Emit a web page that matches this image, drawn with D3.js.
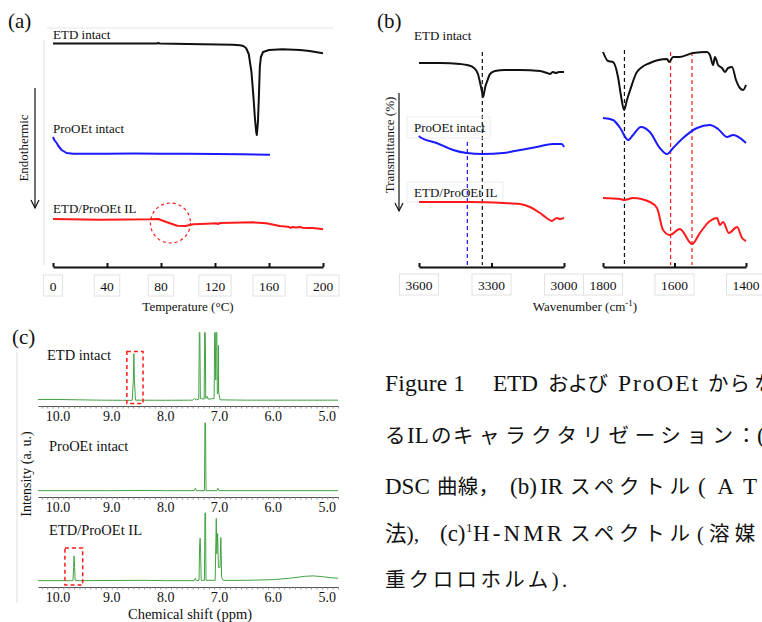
<!DOCTYPE html>
<html><head><meta charset="utf-8">
<script src="https://cdn.jsdelivr.net/npm/d3@7"></script>
<style>
body{margin:0;background:#fff;overflow:hidden}
svg{display:block}
text{font-family:'Liberation Serif','Noto Sans CJK JP',serif;fill:#111}
</style>
</head><body>
<svg id="fig" width="762" height="622"></svg>
<script>
// ---------------- DATA ----------------
// (a) DSC : [temperature (°C), heat flow (a.u., offset)]
const dscTicks = [0, 40, 80, 120, 160, 200];
const dscETD = [[0,223.5],[40,223.5],[77,223.5],[78,224],[79,223.5],[100,223],[133,222.3],[138.5,221.7],[141,221],[143,219],[145,213],[147,195],[148.5,170],[149.5,150],[150.5,135],[151,132],[151.8,145],[152.5,170],[153.2,200],[154,210],[155.6,215],[160,217],[170,217.7],[183,217],[190,216],[200,213.7]];
const dscPro = [[0,130],[1,127],[2.7,124],[4,121],[6.4,117],[10,114],[15,113.3],[40,113.3],[60,113.5],[80,113.3],[100,113.3],[120,113],[140,112.7],[160.7,112.3]];
const dscIL = [[0,48],[35,47.3],[72,47.7],[78,48],[84,45],[92,41.3],[98,41],[104,42.7],[114,43.3],[121,43.7],[122,43],[124,44],[148,44.7],[158,43.7],[168,41],[172,40.5],[175,40],[176,39],[177,40],[180,39.5],[183,40],[185,39.3],[188,39],[192,39],[196,38.5],[200,37.7]];
const dscNames = ["ETD intact", "ProOEt intact", "ETD/ProOEt IL"];
const dscCircle = [87, 44]; // highlighted transition (°C, a.u.)

// (b) IR : [wavenumber (cm-1), transmittance (a.u., offset)]
const irTicksLeft = [3600, 3300, 3000];
const irTicksRight = [1800, 1600, 1400];
const irETDLeft = [[3600,204],[3513,204],[3430,203],[3401,202],[3372,199],[3356,193],[3348,185],[3339,175],[3335,170],[3330,175],[3325,181],[3319,185],[3306,193],[3286,196],[3244,197],[3182,197],[3099,196],[3070,194],[3058,193],[3046,195],[3033,194],[3021,195],[3000,195]];
const irProLeft = [[3600,131],[3596,130],[3527,124],[3459,117],[3403,114],[3335,113],[3252,114],[3182,117],[3113,120],[3046,123],[3010,123],[3000,120]];
const irILLeft = [[3600,65],[3596,65],[3389,65],[3251,64],[3182,63],[3141,60],[3099,54],[3072,49],[3051,46],[3030,49],[3017,48],[3000,49]];
const irETDRight = [[1800,215],[1786,206],[1772,205],[1758,190],[1750,172],[1741,157],[1733,167],[1724,177],[1705,195],[1669,204],[1621,208],[1615,205],[1604,210],[1585,210],[1548,214],[1509,215],[1501,212],[1492,202],[1487,210],[1478,202],[1467,199],[1459,195],[1450,199],[1439,200],[1428,187],[1417,179],[1408,177],[1400,182]];
const irProRight = [[1800,149],[1772,147],[1752,139],[1730,127],[1716,132],[1694,140],[1669,135],[1641,119],[1621,113],[1604,119],[1576,129],[1537,139],[1501,142],[1478,138],[1453,130],[1436,132],[1400,124]];
const irILRight = [[1800,69],[1752,68],[1741,67],[1716,69],[1669,65],[1649,59],[1632,37],[1613,32],[1585,38],[1551,23],[1529,34],[1501,46],[1481,49],[1473,42],[1464,45],[1448,34],[1425,40],[1411,29],[1400,26]];
const irNames = ["ETD intact", "ProOEt intact", "ETD/ProOEt IL"];
// reference (dashed) lines: wavenumber, segment, colour key, top value
const irRefWn = [3338, 3400, 1740, 1611, 1551];
const irRefSeg = ["L", "L", "R", "R", "R"];
const irRefKey = ["k", "b", "k", "r", "r"];
const irRefTop = [215, 125, 217, 215, 215];

// (c) 1H-NMR : [chemical shift (ppm), intensity (a.u.)]
const nmrTickLabels = [10.0, 9.0, 8.0, 7.0, 6.0, 5.0];
const nmrETD = [[10.37,1.5],[10.0,1.5],[9.6,1],[9.2,0.5],[8.8,0.3],[8.62,0.3],[8.60,30],[8.59,69],[8.58,30],[8.56,0.5],[8.0,0.3],[7.5,0.5],[7.46,3],[7.44,1],[7.385,2],[7.375,100],[7.365,100],[7.355,3],[7.285,2],[7.275,100],[7.265,100],[7.255,3],[7.23,6],[7.21,2],[7.10,3],[7.09,100],[7.08,100],[7.07,30],[7.06,100],[7.05,100],[7.04,10],[7.025,12],[7.02,81],[7.015,12],[6.99,1],[6.5,0.5],[6.0,0.5],[5.0,0.5],[4.80,0.5]];
const nmrPro = [[10.37,0.5],[9.0,0.5],[8.4,0.8],[8.0,0.5],[7.47,0.5],[7.45,4],[7.43,0.5],[7.28,0.5],[7.27,100],[7.26,100],[7.25,0.5],[7.05,0.5],[7.03,4],[7.01,0.5],[6.0,0.5],[4.80,0.5]];
const nmrIL = [[10.37,0.5],[9.75,0.5],[9.72,1],[9.71,20],[9.70,37],[9.69,20],[9.68,1],[9.6,0.5],[8.4,1],[8.0,0.5],[7.47,0.5],[7.45,4],[7.43,0.5],[7.38,1],[7.37,50],[7.36,63],[7.35,40],[7.34,1],[7.28,1],[7.27,100],[7.26,100],[7.25,1],[7.08,1],[7.06,92],[7.05,40],[7.035,70],[7.02,20],[6.99,20],[6.975,64],[6.96,5],[6.93,1],[6.5,1],[6.0,2],[5.7,4],[5.4,7],[5.26,7.5],[5.1,6.5],[4.95,5],[4.80,4]];
const nmrNames = ["ETD intact", "ProOEt intact", "ETD/ProOEt IL"];
const nmrBoxes = [[0, 8.72, 8.42, 72, -4.5], [2, 9.87, 9.54, 48.5, -6]];

// caption (Japanese) chunks: text, x, target width (null = natural), font size
const capLines = [
  [["Figure 1",385,80,23.5],["ETD",493,45,23.5],["および",548,60,20.5],["ProOEt",618,80,23.5],["から",708,42,20.5],["な",754,null,20.5]],
  [["る",385,null,20.5],["IL",407,null,23],["の",431,null,20.5],["キャラクタリゼーション",453,280,20.5],["：",736,null,20.5],["(a)",757,null,23.5]],
  [["DSC",385,null,23],["曲線，",437,62,20.5],["(b)",510,null,23],["IR",540,null,23],["スペクトル",570,120,20.5],["(ATR",698,86,23]],
  [["法),",385,null,21.5],["(c)",440,null,23],["H-NMR",473,89,23],["スペクトル",570,120,20.5],["(溶媒：",697,84,20.5]],
  [["重クロロホルム).",385,182,20.5]]
];
const capBaselines = [391, 443, 494, 541, 587];

// ---------------- DRAW ----------------
const svg = d3.select("#fig");
const C = {k:"#111111", b:"#1a1aff", r:"#ff1a1a", g:"#43a343"};

function label(x, y, t, size, anchor){
  return svg.append("text").attr("x", x).attr("y", y).attr("font-size", size)
    .attr("text-anchor", anchor || "start").text(t);
}
function arrowDown(x, y1, y2){
  svg.append("line").attr("x1",x).attr("x2",x).attr("y1",y1).attr("y2",y2).attr("stroke","#111").attr("stroke-width",1.2);
  svg.append("path").attr("d",`M${x-4},${y2-8}L${x},${y2}L${x+4},${y2-8}`).attr("fill","none").attr("stroke","#111").attr("stroke-width",1.2);
}
function tickBox(x, y, t, size){
  const w = t.length * size * 0.5 + 12;
  svg.append("rect").attr("x", x - w/2).attr("y", y - 11).attr("width", w).attr("height", 21)
    .attr("fill","#fff").attr("stroke","#e2e2e2").attr("stroke-width",1);
  label(x, y + 5, t, size, "middle");
}

// ===== (a) DSC =====
label(8, 28, "(a)", 21);
svg.append("line").attr("x1",47).attr("x2",333).attr("y1",28).attr("y2",28).attr("stroke","#e6e6e6");
svg.append("line").attr("x1",44).attr("x2",44).attr("y1",40).attr("y2",265).attr("stroke","#dddddd");
const xA = d3.scaleLinear().domain([0,200]).range([53,323]);
const yA = d3.scaleLinear().domain([0,240]).range([267,27]);
const lineA = d3.line().x(d=>xA(d[0])).y(d=>yA(d[1]));
[[dscETD,C.k],[dscPro,C.b],[dscIL,C.r]].forEach(([d,c])=>{
  svg.append("path").datum(d).attr("d",lineA).attr("fill","none").attr("stroke",c).attr("stroke-width",2).attr("stroke-linejoin","round");
});
svg.append("circle").attr("cx",xA(dscCircle[0])).attr("cy",yA(dscCircle[1])).attr("r",20)
  .attr("fill","none").attr("stroke",C.r).attr("stroke-width",1.2).attr("stroke-dasharray","3,3");
const axA = svg.append("g").attr("transform","translate(0,267)")
  .call(d3.axisBottom(xA).tickValues(dscTicks).tickSizeInner(-4).tickSizeOuter(0).tickFormat(""));
axA.selectAll("path,line").attr("stroke","#111").attr("stroke-width",2);
dscTicks.forEach(t=>tickBox(xA(t), 286, String(t), 13.5));
label(188, 311, "Temperature (°C)", 13, "middle");
label(53, 39, dscNames[0], 13);
label(53, 133, dscNames[1], 13);
label(53, 213, dscNames[2], 13);
arrowDown(35, 88, 208);
svg.append("text").attr("transform","translate(28,148) rotate(-90)").attr("font-size",13)
  .attr("text-anchor","middle").text("Endothermic");

// ===== (b) IR =====
label(377, 28, "(b)", 21);
const xL = d3.scaleLinear().domain([3600,3000]).range([419,564]);
const xR = d3.scaleLinear().domain([1800,1400]).range([603,746]);
const yB = d3.scaleLinear().domain([0,240]).range([267,27]);
const lineL = d3.line().x(d=>xL(d[0])).y(d=>yB(d[1])).curve(d3.curveMonotoneX);
const lineR = d3.line().x(d=>xR(d[0])).y(d=>yB(d[1])).curve(d3.curveMonotoneX);
irRefWn.forEach((wn,i)=>{
  const sx = irRefSeg[i]==="L" ? xL : xR;
  svg.append("line").attr("x1",sx(wn)).attr("x2",sx(wn)).attr("y1",yB(irRefTop[i])).attr("y2",yB(2))
    .attr("stroke",C[irRefKey[i]]).attr("stroke-width",1.2).attr("stroke-dasharray","4,3");
});
svg.append("rect").attr("x",407).attr("y",117).attr("width",83).attr("height",21).attr("fill","none").attr("stroke","#ececec");
svg.append("rect").attr("x",407).attr("y",182).attr("width",96).attr("height",20).attr("fill","none").attr("stroke","#ececec");
[[irETDLeft,lineL,C.k],[irProLeft,lineL,C.b],[irILLeft,lineL,C.r],
 [irETDRight,lineR,C.k],[irProRight,lineR,C.b],[irILRight,lineR,C.r]].forEach(([d,l,c])=>{
  svg.append("path").datum(d).attr("d",l).attr("fill","none").attr("stroke",c).attr("stroke-width",2).attr("stroke-linejoin","round");
});
const axL = svg.append("g").attr("transform","translate(0,267)")
  .call(d3.axisBottom(xL).tickValues(irTicksLeft).tickSizeInner(-4).tickSizeOuter(0).tickFormat(""));
const axR = svg.append("g").attr("transform","translate(0,267)")
  .call(d3.axisBottom(xR).tickValues(irTicksRight).tickSizeInner(-4).tickSizeOuter(0).tickFormat(""));
[axL,axR].forEach(a=>a.selectAll("path,line").attr("stroke","#111").attr("stroke-width",2));
irTicksLeft.forEach(t=>tickBox(xL(t), 285, String(t), 13.5));
irTicksRight.forEach(t=>tickBox(xR(t), 285, String(t), 13.5));
const wl = svg.append("text").attr("x",585).attr("y",311).attr("font-size",13).attr("text-anchor","middle");
wl.append("tspan").text("Wavenumber (cm");
wl.append("tspan").attr("font-size",9).attr("dy",-5).text("-1");
wl.append("tspan").attr("dy",5).text(")");
label(414, 40, irNames[0], 13);
label(414, 132, irNames[1], 13);
label(414, 197, irNames[2], 13);
arrowDown(399, 93, 211);
svg.append("text").attr("transform","translate(394,145) rotate(-90)").attr("font-size",13)
  .attr("text-anchor","middle").text("Transmittance (%)");

// ===== (c) NMR =====
label(12, 344, "(c)", 21);
svg.append("line").attr("x1",17).attr("x2",17).attr("y1",352).attr("y2",603).attr("stroke","#dddddd");
const xC = d3.scaleLinear().domain([10.37,4.80]).range([38,338]);
const panels = [
  {data:nmrETD, base:400.5, axis:406, lab:421, name:360},
  {data:nmrPro, base:491, axis:497, lab:512, name:451},
  {data:nmrIL,  base:581, axis:587, lab:602, name:535}
];
panels.forEach((p,i)=>{
  p.y = d3.scaleLinear().domain([0,100]).range([p.base, p.base-68]);
  const ax = svg.append("g").attr("transform",`translate(0,${p.axis})`)
    .call(d3.axisBottom(xC).ticks(56).tickSizeInner(2.5).tickSizeOuter(0).tickFormat(""));
  ax.selectAll("path").attr("stroke","#555").attr("stroke-width",1.2);
  ax.selectAll("line").attr("stroke","#777").attr("stroke-width",0.8);
  nmrTickLabels.forEach(t=>label(xC(t), p.lab, t.toFixed(1), 14, "middle"));
  label(i===0?47:49, p.name, nmrNames[i], 14.5);
});
panels.forEach(p=>{
  const ln = d3.line().x(d=>xC(d[0])).y(d=>p.y(d[1]));
  svg.append("path").datum(p.data).attr("d",ln).attr("fill","none").attr("stroke",C.g)
    .attr("stroke-width",1).attr("stroke-linejoin","round");
});
nmrBoxes.forEach(b=>{
  const p = panels[b[0]];
  svg.append("rect").attr("x",xC(b[1])).attr("y",p.y(b[3]))
    .attr("width",xC(b[2])-xC(b[1])).attr("height",p.y(b[4])-p.y(b[3]))
    .attr("fill","none").attr("stroke",C.r).attr("stroke-width",1.5).attr("stroke-dasharray","4,3");
});
label(190, 619, "Chemical shift (ppm)", 14.5, "middle");
svg.append("text").attr("transform","translate(31,474) rotate(-90)").attr("font-size",14)
  .attr("text-anchor","middle").text("Intensity (a. u.)");

// ===== caption =====
capLines.forEach((line,i)=>{
  line.forEach(([t,x,w,s])=>{
    const el = svg.append("text").attr("x",x).attr("y",capBaselines[i]).attr("font-size",s).text(t);
    if (w) el.attr("textLength",w).attr("lengthAdjust","spacing");
  });
});
// superscript 1 in 1H-NMR
svg.append("text").attr("x",466).attr("y",capBaselines[3]-9).attr("font-size",13).text("1");
</script>
</body></html>
